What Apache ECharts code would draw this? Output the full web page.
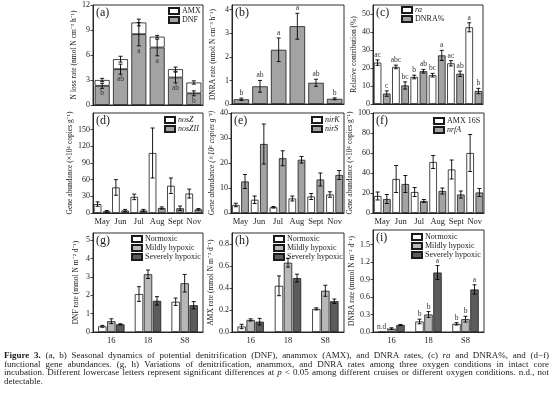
<!DOCTYPE html>
<html>
<head>
<meta charset="utf-8">
<script src="https://cdn.jsdelivr.net/npm/echarts@6/dist/echarts.min.js"></script>
<style>html,body{margin:0;padding:0;background:#fff;}</style>
</head>
<body>
<div id="main" style="width:554px;height:396px;"></div>
<script type="text/javascript">
var months = ['May', 'Jun', 'Jul', 'Aug', 'Sept', 'Nov'];
var stations = ['16', '18', 'S8'];
var oxygen = ['Normoxic', 'Mildly hypoxic', 'Severely hypoxic'];

// (a) potential N loss, DNF + AMX stacked
var dnfRate = [2.3, 4.3, 8.5, 6.9, 3.3, 1.4];
var dnfRateErr = [0.3, 0.6, 1.4, 1.0, 0.65, 0.3];
var dnfLetters = ['b', 'ab', 'a', 'a', 'ab', 'b'];
var amxRate = [0.7, 1.2, 1.4, 1.3, 1.0, 1.3];
var lossErr = [0.2, 0.35, 0.4, 0.15, 0.25, 0.2];

// (b) DNRA rate
var dnraRate = [0.2, 0.75, 2.3, 3.3, 0.9, 0.22];
var dnraRateErr = [0.05, 0.25, 0.5, 0.55, 0.15, 0.04];
var dnraLetters = ['b', 'ab', 'a', 'a', 'ab', 'b'];

// (c) ra and DNRA%
var raPct = [23, 20.6, 15, 16, 22.6, 42.6];
var raPctErr = [1.5, 1, 1, 1, 1.5, 2.5];
var raLetters = ['ac', 'abc', 'b', 'bc', 'ac', 'a'];
var dnraPct = [5.8, 10.3, 18.2, 27, 16.8, 7.2];
var dnraPctErr = [1.5, 2, 1, 2.8, 1.5, 1.5];
var dnraPctLetters = ['c', 'bc', 'ab', 'a', 'ab', 'b'];

// (d)-(f) gene abundances
var nosZ = [16, 46, 29, 108, 49, 35];
var nosZErr = [4, 14, 5, 45, 14, 8];
var nosZII = [3, 4.5, 4.5, 9, 8.5, 6.5];
var nosZIIErr = [1.5, 2, 2, 2, 4, 1.5];
var nirK = [3.2, 5.3, 2.3, 5.8, 6.6, 7.4];
var nirKErr = [0.7, 1.5, 0.3, 1.0, 1.2, 1.1];
var nirS = [12.6, 27.6, 21.9, 21.3, 13.4, 15.2];
var nirSErr = [2.8, 8, 3, 1.3, 2.6, 1.8];
var amx16S = [17, 34, 21, 51, 43.5, 60];
var amx16SErr = [4, 13.5, 4.5, 6.5, 9.5, 18.5];
var nrfA = [14, 29, 12, 22, 18.5, 20.5];
var nrfAErr = [4.5, 8.5, 1.5, 3, 3.5, 4];

// (g)-(i) intact cores, one array per oxygen condition over stations
var dnfCore = [[0.31, 2.07, 1.65], [0.59, 3.15, 2.66], [0.42, 1.70, 1.46]];
var dnfCoreErr = [[0.05, 0.4, 0.2], [0.13, 0.23, 0.48], [0.03, 0.23, 0.2]];
var amxCore = [[0.05, 0.42, 0.21], [0.11, 0.63, 0.375], [0.094, 0.49, 0.28]];
var amxCoreErr = [[0.02, 0.09, 0.01], [0.01, 0.04, 0.05], [0.03, 0.036, 0.02]];
var dnraCore = [[0, 0.18, 0.14], [0.057, 0.30, 0.22], [0.12, 1.02, 0.73]];
var dnraCoreErr = [[0, 0.04, 0.02], [0.015, 0.05, 0.05], [0.01, 0.12, 0.08]];
var dnraCoreLetters = [['n.d.', 'b', 'b'], ['', 'b', 'b'], ['', 'a', 'a']];

var serif = '"Liberation Serif", "Times New Roman", serif';
var ink = '#1a1a1a';
var white = '#ffffff', gray = '#a3a3a3', light = '#b8b8b8', dark = '#5c5c5c';

// panel layout
var panels = [
    { tag: '(a)', left: 93, top: 5, width: 110, height: 100, max: 12, interval: 3, showMax: true, cats: months, showX: false, gap: 12, name: 'N loss rate (nmol N cm\u207B\u00B3 h\u207B\u00B9)' },
    { tag: '(b)', left: 232, top: 5, width: 112, height: 99, max: 4.2, interval: 1, showMax: false, cats: months, showX: false, gap: 15, name: 'DNRA rate (nmol N cm\u207B\u00B3 h\u207B\u00B9)' },
    { tag: '(c)', left: 373, top: 5, width: 110, height: 99, max: 55, interval: 10, showMax: false, cats: months, showX: false, gap: 14, name: 'Relative contribution (%)' },
    { tag: '(d)', left: 93, top: 113, width: 110, height: 100, max: 180, interval: 30, showMax: false, cats: months, showX: true, gap: 12, name: 'Gene abundance (\u00D710\u2076 copies g\u207B\u00B9)' },
    { tag: '(e)', left: 231, top: 113, width: 113, height: 100, max: 40, interval: 10, showMax: true, cats: months, showX: true, gap: 9, italic: true, name: 'Gene abundance (\u00D710\u2076 copies g\u207B\u00B9)' },
    { tag: '(f)', left: 373, top: 113, width: 111, height: 100, max: 100, interval: 20, showMax: true, cats: months, showX: true, gap: 14, name: 'Gene abundance (\u00D710\u2076 copies g\u207B\u00B9)' },
    { tag: '(g)', left: 93, top: 233, width: 110, height: 99, max: 5.4, interval: 1, showMax: false, cats: stations, showX: true, gap: 13, name: 'DNF rate (mmol N m\u207B\u00B2 d\u207B\u00B9)' },
    { tag: '(h)', left: 232, top: 233, width: 112, height: 99, max: 0.9, interval: 0.2, showMax: false, cats: stations, showX: true, gap: 13, dec: 1, name: 'AMX rate (mmol N m\u207B\u00B2 d\u207B\u00B9)' },
    { tag: '(i)', left: 373, top: 230, width: 111, height: 102, max: 1.75, interval: 0.3, showMax: false, cats: stations, showX: true, gap: 13, dec: 1, name: 'DNRA rate (mmol N m\u207B\u00B2 d\u207B\u00B9)' }
];

var grids = [], xAxes = [], yAxes = [], graphics = [];
panels.forEach(function (p, i) {
    grids.push({ left: p.left, top: p.top, width: p.width, height: p.height, show: true, borderColor: ink, borderWidth: 0.9, backgroundColor: 'transparent' });
    xAxes.push({
        gridIndex: i, type: 'category', data: p.cats,
        axisLine: { lineStyle: { color: ink, width: 0.9 } },
        axisTick: { alignWithLabel: true, interval: 0, length: 2.5, lineStyle: { color: ink, width: 0.8 } },
        axisLabel: { show: p.showX, interval: 0, fontSize: 8.5, margin: 4, color: ink, fontFamily: serif }
    });
    yAxes.push({
        gridIndex: i, type: 'value', min: 0, max: p.max, interval: p.interval,
        name: p.name, nameLocation: 'middle', nameGap: p.gap,
        nameTextStyle: { fontSize: 7.5, color: ink, fontFamily: serif, fontStyle: p.italic ? 'italic' : 'normal' },
        axisLine: { show: true, lineStyle: { color: ink, width: 0.9 } },
        axisTick: { show: true, length: 2.5, lineStyle: { color: ink, width: 0.8 } },
        axisLabel: {
            fontSize: 8, margin: 3, color: ink, fontFamily: serif, showMaxLabel: p.showMax,
            formatter: p.dec ? function (v) { return v.toFixed(p.dec); } : null
        },
        splitLine: { show: false }
    });
    graphics.push({ type: 'text', x: p.left + 3, y: p.top + 8, style: { text: p.tag, font: '12px ' + serif, fill: ink, textVerticalAlign: 'middle', verticalAlign: 'middle' } });
});

function bar(name, axis, values, color, width, gap, stack) {
    return {
        type: 'bar', name: name, xAxisIndex: axis, yAxisIndex: axis, data: values, stack: stack,
        barWidth: width, barGap: (gap / width * 100) + '%',
        itemStyle: { color: color, borderColor: ink, borderWidth: 0.8 }
    };
}

// error bars and significance letters, drawn as a custom series
function errors(axis, values, errs, letters, offset, below, base) {
    return {
        type: 'custom', xAxisIndex: axis, yAxisIndex: axis, z: 5, clip: false, silent: true,
        data: values.map(function (v, i) { return [i, (base ? base[i] : 0) + v, errs[i]]; }),
        renderItem: function (params, api) {
            var i = api.value(0), v = api.value(1), e = api.value(2);
            var hi = api.coord([i, v + e]), lo = api.coord([i, Math.max(v - e, 0)]);
            var x = hi[0] + offset, kids = [];
            var st = { stroke: '#000', lineWidth: 0.9 };
            if (e > 0) {
                kids.push({ type: 'line', shape: { x1: x, y1: hi[1], x2: x, y2: lo[1] }, style: st });
                kids.push({ type: 'line', shape: { x1: x - 2, y1: hi[1], x2: x + 2, y2: hi[1] }, style: st });
                kids.push({ type: 'line', shape: { x1: x - 2, y1: lo[1], x2: x + 2, y2: lo[1] }, style: st });
            }
            var t = letters ? letters[params.dataIndex] : '';
            if (t) {
                kids.push({
                    type: 'text', x: x, y: below ? lo[1] + 1 : hi[1] - 1,
                    style: { text: t, font: '7.5px ' + serif, fill: '#333', textAlign: 'center', align: 'center',
                        textVerticalAlign: below ? 'top' : 'bottom', verticalAlign: below ? 'top' : 'bottom' }
                });
            }
            return { type: 'group', children: kids };
        }
    };
}

var series = [];
// (a)
series.push(bar('DNF', 0, dnfRate, gray, 15, 0, 'loss'));
series.push(bar('AMX', 0, amxRate, white, 15, 0, 'loss'));
series.push(errors(0, dnfRate, dnfRateErr, dnfLetters, 0, true));
series.push(errors(0, amxRate, lossErr, null, 0, false, dnfRate));
// (b)
series.push(bar('DNRA rate', 1, dnraRate, gray, 15.5, 0));
series.push(errors(1, dnraRate, dnraRateErr, dnraLetters, 0, false));
// (c)-(f): paired bars
var pairs = [
    [2, 'ra', raPct, raPctErr, raLetters, 'DNRA%', dnraPct, dnraPctErr, dnraPctLetters],
    [3, 'nosZ', nosZ, nosZErr, null, 'nosZII', nosZII, nosZIIErr, null],
    [4, 'nirK', nirK, nirKErr, null, 'nirS', nirS, nirSErr, null],
    [5, 'AMX 16S', amx16S, amx16SErr, null, 'nrfA', nrfA, nrfAErr, null]
];
var pw = 7.6, pg = 1.6;
pairs.forEach(function (q) {
    series.push(bar(q[1], q[0], q[2], white, pw, pg));
    series.push(bar(q[5], q[0], q[6], gray, pw, pg));
    series.push(errors(q[0], q[2], q[3], q[4], -(pw + pg) / 2, false));
    series.push(errors(q[0], q[6], q[7], q[8], (pw + pg) / 2, false));
});
// (g)-(i): three oxygen conditions
var cores = [[6, dnfCore, dnfCoreErr, null], [7, amxCore, amxCoreErr, null], [8, dnraCore, dnraCoreErr, dnraCoreLetters]];
var tw = 8.4, tg = 0.6, fills = [white, light, dark];
cores.forEach(function (q) {
    oxygen.forEach(function (name, k) {
        series.push(bar(name, q[0], q[1][k], fills[k], tw, tg));
        series.push(errors(q[0], q[1][k], q[2][k], q[3] ? q[3][k] : null, (k - 1) * (tw + tg), false));
    });
});

function legend(items, left, top) {
    return {
        data: items, left: left, top: top, orient: 'vertical', padding: 0, itemGap: 1,
        itemWidth: 10, itemHeight: 6, icon: 'rect', selectedMode: false,
        textStyle: { fontSize: 8, fontFamily: serif, color: ink, lineHeight: 7, padding: [0, 0, 0, -2] }
    };
}
function it(n) { return { name: n, textStyle: { fontStyle: 'italic' } }; }

// caption, justified word by word
var capLines = [
    '^Figure ^3. (a, b) Seasonal dynamics of potential denitrification (DNF), anammox (AMX), and DNRA rates, (c) _ra and DNRA%, and (d\u2212f)',
    'functional gene abundances. (g, h) Variations of denitrification, anammox, and DNRA rates among three oxygen conditions in intact core',
    'incubation. Different lowercase letters represent significant differences at _p < 0.05 among different cruises or different oxygen conditions. n.d., not',
    'detectable.'
];
var ctx = document.createElement('canvas').getContext('2d');
capLines.forEach(function (line, li) {
    var words = line.split(' ').map(function (w) {
        var f = '9px ' + serif;
        if (w[0] === '^') { w = w.slice(1); f = 'bold ' + f; }
        else if (w[0] === '_') { w = w.slice(1); f = 'italic ' + f; }
        ctx.font = f;
        return { t: w, f: f, w: ctx.measureText(w).width };
    });
    var total = words.reduce(function (s, w) { return s + w.w; }, 0);
    ctx.font = '9px ' + serif;
    var space = li < capLines.length - 1 ? (545 - total) / (words.length - 1) : ctx.measureText(' ').width;
    var x = 4;
    words.forEach(function (w) {
        graphics.push({ type: 'text', x: x, y: 355.5 + li * 8.8, style: { text: w.t, font: w.f, fill: ink, textVerticalAlign: 'middle', verticalAlign: 'middle' } });
        x += w.w + space;
    });
});

var myChart = echarts.init(document.getElementById('main'));
myChart.setOption({
    animation: false,
    grid: grids,
    xAxis: xAxes,
    yAxis: yAxes,
    legend: [
        legend(['AMX', 'DNF'], 168, 7),
        legend([it('ra'), 'DNRA%'], 401, 6),
        legend([it('nosZ'), it('nosZII')], 164, 116),
        legend([it('nirK'), it('nirS')], 311, 116),
        legend(['AMX 16S', it('nrfA')], 433, 117),
        legend(oxygen, 131, 235),
        legend(oxygen, 273, 235),
        legend(oxygen, 411, 233)
    ],
    graphic: graphics,
    series: series
});
</script>
</body>
</html>
